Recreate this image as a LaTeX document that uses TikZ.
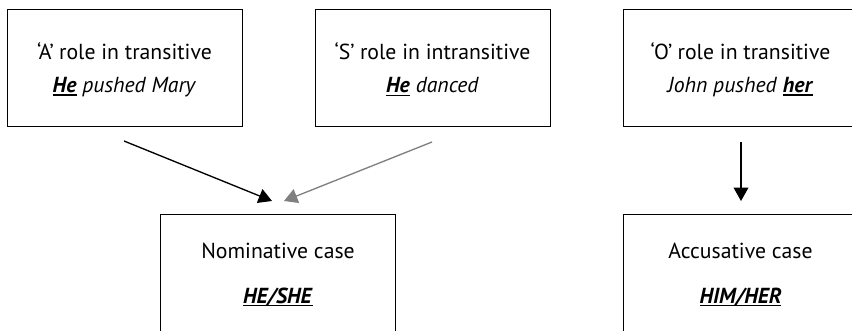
\documentclass[tikz,border=0pt]{standalone}
\usepackage{fontspec}
\setmainfont{PT Sans}
\usetikzlibrary{arrows.meta}

% bold italic word with a heavy underline
\newcommand\heavyul[1]{\setbox0\hbox{\textbf{\textit{#1}}}\rlap{\rule[-2.6pt]{\wd0}{1.2pt}}\box0\relax}

\tikzset{
  x=0.75pt, y=-0.75pt,
  casebox/.style={draw, line width=1pt, minimum width=176.25pt, minimum height=87.75pt,
    inner sep=0pt, anchor=north west},
  label/.style={font=\fontsize{16.3pt}{19pt}\selectfont, inner sep=0pt},
  link/.style={line width=1pt, -{Triangle[length=10pt,width=11pt]}},
}

\begin{document}
\begin{tikzpicture}
\useasboundingbox (0,0) rectangle (852,331);
\clip (0,0) rectangle (852,331);

% role boxes (top row)
\node[casebox] (roleA) at (7,9) {};
\node[casebox] (roleS) at (315,9) {};
\node[casebox] (roleO) at (623,9) {};

\node[label] (roleAt) at (124.5,51) {‘A’\hspace{0.25em}role in transitive};
\node[label] (roleAe) at (124.5,87) {\heavyul{He} \textit{pushed Mary}};
\node[label] (roleSt) at (432.5,51) {‘S’\hspace{0.25em}role in intransitive};
\node[label] (roleSe) at (432.5,87) {\heavyul{He} \textit{danced}};
\node[label] (roleOt) at (740.5,51) {‘O’\hspace{0.25em}role in transitive};
\node[label] (roleOe) at (740.5,87) {\textit{John pushed} \heavyul{her}};

% case boxes (bottom row)
\node[casebox] (nom) at (160,214) {};
\node[casebox] (acc) at (623,214) {};

\node[label] (nomt) at (278,251) {Nominative case};
\node[label] (nome) at (278,297) {\heavyul{HE/SHE}};
\node[label] (acct) at (740.5,251) {Accusative case};
\node[label] (acce) at (740.5,297) {\heavyul{HIM/HER}};

% arrow end points
\coordinate (fromA) at (124,141);
\coordinate (toA) at (272,201);
\coordinate (fromS) at (432,142);
\coordinate (toS) at (284,201);
\coordinate (fromO) at (741,142);
\coordinate (toO) at (741,201);

\draw[link] (fromA) -- (toA);
\draw[link, draw=gray, fill=gray] (fromS) -- (toS);
\draw[link] (fromO) -- (toO);
\end{tikzpicture}
\end{document}
